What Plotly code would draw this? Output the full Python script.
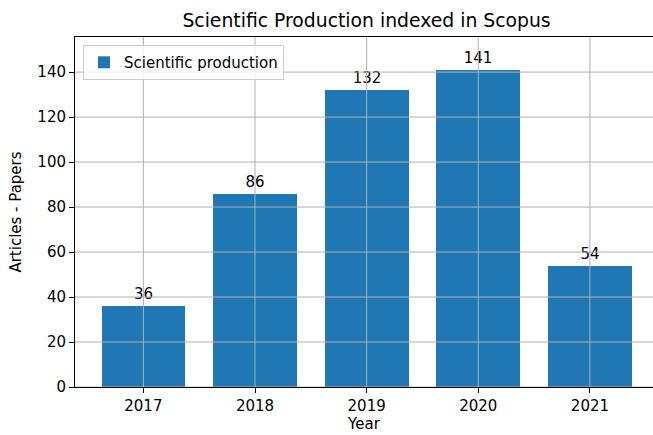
import plotly.graph_objects as go

years = ["2017", "2018", "2019", "2020", "2021"]
production = [36, 86, 132, 141, 54]
y_ticks = [0, 20, 40, 60, 80, 100, 120, 140]

FONT = "DejaVu Sans"
FS = 15
idx = list(range(len(years)))

fig = go.Figure()
fig.add_trace(go.Bar(
    x=idx, y=production, width=0.75,
    marker=dict(color="#1f77b4", line=dict(width=0)),
    name="Scientific production",
    text=[str(v) for v in production], textposition="outside",
    textfont=dict(family=FONT, size=FS, color="#000000"),
    cliponaxis=False,
))

shapes = []
for i in idx:
    shapes.append(dict(type="line", xref="x", yref="paper", x0=i, x1=i, y0=0, y1=1,
                       line=dict(color="#b0b0b0", width=1), layer="above"))
for v in y_ticks:
    shapes.append(dict(type="line", xref="paper", yref="y", x0=0, x1=1, y0=v, y1=v,
                       line=dict(color="#b0b0b0", width=1), layer="above"))

fig.update_layout(
    width=653, height=435,
    margin=dict(l=75, r=0, t=37, b=48, autoexpand=False),
    paper_bgcolor="white", plot_bgcolor="white",
    font=dict(family=FONT, size=FS, color="#000000"),
    title=dict(text="Scientific Production indexed in Scopus", x=366.5 / 653, xanchor="center",
               y=1 - 20 / 435, yanchor="middle", font=dict(family=FONT, size=18.8, color="#000000")),
    showlegend=True,
    legend=dict(x=0.0138, y=0.977, xanchor="left", yanchor="top",
                bgcolor="rgba(255,255,255,0.8)", bordercolor="#cccccc", borderwidth=1,
                font=dict(family=FONT, size=FS, color="#000000")),
    shapes=shapes,
    bargap=0,
)
fig.update_xaxes(
    range=[-0.6125, 4.565], tickvals=idx, ticktext=years, automargin=False,
    showgrid=False, zeroline=False,
    showline=True, linecolor="#000000", linewidth=1, mirror=True,
    ticks="outside", ticklen=5, tickcolor="#000000",
    title=dict(text="Year", font=dict(family=FONT, size=FS), standoff=4),
    tickfont=dict(family=FONT, size=FS),
)
fig.update_yaxes(
    range=[0, 155.6], tickvals=y_ticks, automargin=False,
    showgrid=False, zeroline=False,
    showline=True, linecolor="#000000", linewidth=1,
    ticks="outside", ticklen=5, tickcolor="#000000",
    title=dict(text="Articles - Papers", font=dict(family=FONT, size=FS), standoff=12),
    tickfont=dict(family=FONT, size=FS),
)

fig.write_html("out.html", config={"displayModeBar": False},
               post_script="document.body.style.margin='0';document.body.style.padding='0';")
